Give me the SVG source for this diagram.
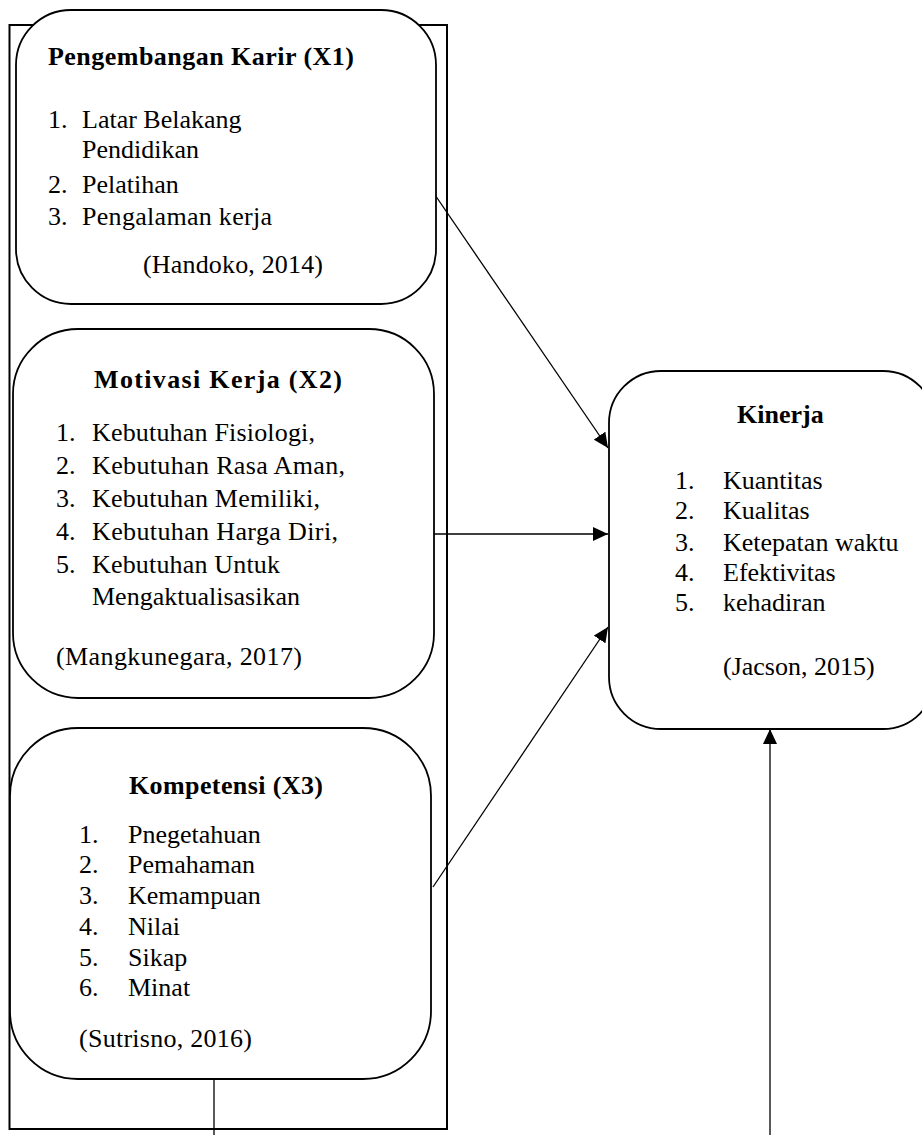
<svg xmlns="http://www.w3.org/2000/svg" width="922" height="1135" viewBox="0 0 922 1135">
<style>
text{font-family:"Liberation Serif","Times New Roman",serif;font-size:26px;fill:#000}
.b{font-weight:bold}
.box{fill:#fff;stroke:#000;stroke-width:1.8}
.con{stroke:#000;stroke-width:1.3;fill:none}
</style>
<defs>
<marker id="ah" markerUnits="userSpaceOnUse" markerWidth="16" markerHeight="14" refX="15" refY="7" orient="auto">
<path d="M0,0 L15,7 L0,14 z" fill="#000"/>
</marker>
</defs>
<rect id="frame" x="9.5" y="25" width="437.5" height="1104" fill="none" stroke="#000" stroke-width="2"/>
<g id="connectors">
<line class="con" x1="433" y1="192" x2="608" y2="448" marker-end="url(#ah)"/>
<line class="con" x1="434" y1="534" x2="608" y2="534" marker-end="url(#ah)"/>
<line class="con" x1="433" y1="887" x2="608" y2="627" marker-end="url(#ah)"/>
<line class="con" x1="214" y1="1079" x2="214" y2="1135"/>
<line class="con" x1="770" y1="1135" x2="770" y2="729" marker-end="url(#ah)"/>
</g>
<g id="x1">
<rect class="box" x="16" y="10" width="420" height="294" rx="55" ry="55"/>
<text class="b" x="48" y="65" textLength="306" lengthAdjust="spacing">Pengembangan Karir (X1)</text>
<text x="48" y="128">1.</text><text x="82" y="128">Latar Belakang</text>
<text x="82" y="158">Pendidikan</text>
<text x="48" y="193">2.</text><text x="82" y="193">Pelatihan</text>
<text x="48" y="225">3.</text><text x="82" y="225" textLength="190" lengthAdjust="spacing">Pengalaman kerja</text>
<text x="143" y="273" textLength="180" lengthAdjust="spacing">(Handoko, 2014)</text>
</g>
<g id="x2">
<rect class="box" x="13" y="329" width="421" height="369" rx="65" ry="65"/>
<text class="b" x="94" y="388" textLength="248" lengthAdjust="spacing">Motivasi Kerja (X2)</text>
<text x="56" y="441">1.</text><text x="92" y="441" textLength="223" lengthAdjust="spacing">Kebutuhan Fisiologi,</text>
<text x="56" y="474">2.</text><text x="92" y="474" textLength="253" lengthAdjust="spacing">Kebutuhan Rasa Aman,</text>
<text x="56" y="507">3.</text><text x="92" y="507" textLength="228" lengthAdjust="spacing">Kebutuhan Memiliki,</text>
<text x="56" y="540">4.</text><text x="92" y="540" textLength="246" lengthAdjust="spacing">Kebutuhan Harga Diri,</text>
<text x="56" y="573">5.</text><text x="92" y="573" textLength="188" lengthAdjust="spacing">Kebutuhan Untuk</text>
<text x="92" y="605">Mengaktualisasikan</text>
<text x="56" y="665" textLength="246" lengthAdjust="spacing">(Mangkunegara, 2017)</text>
</g>
<g id="x3">
<rect class="box" x="10" y="728" width="421" height="351" rx="68" ry="68"/>
<text class="b" x="129" y="794" textLength="194" lengthAdjust="spacing">Kompetensi (X3)</text>
<text x="79" y="843">1.</text><text x="128" y="843">Pnegetahuan</text>
<text x="79" y="873">2.</text><text x="128" y="873">Pemahaman</text>
<text x="79" y="904">3.</text><text x="128" y="904">Kemampuan</text>
<text x="79" y="935">4.</text><text x="128" y="935">Nilai</text>
<text x="79" y="966">5.</text><text x="128" y="966">Sikap</text>
<text x="79" y="996">6.</text><text x="128" y="996">Minat</text>
<text x="79" y="1047" textLength="173" lengthAdjust="spacing">(Sutrisno, 2016)</text>
</g>
<g id="y">
<rect class="box" x="609" y="371" width="326" height="358" rx="52" ry="52"/>
<text class="b" x="737" y="423">Kinerja</text>
<text x="675" y="489">1.</text><text x="723" y="489">Kuantitas</text>
<text x="675" y="519">2.</text><text x="723" y="519">Kualitas</text>
<text x="675" y="551">3.</text><text x="723" y="551">Ketepatan waktu</text>
<text x="675" y="581">4.</text><text x="723" y="581">Efektivitas</text>
<text x="675" y="611">5.</text><text x="723" y="611">kehadiran</text>
<text x="723" y="675">(Jacson, 2015)</text>
</g>
</svg>
